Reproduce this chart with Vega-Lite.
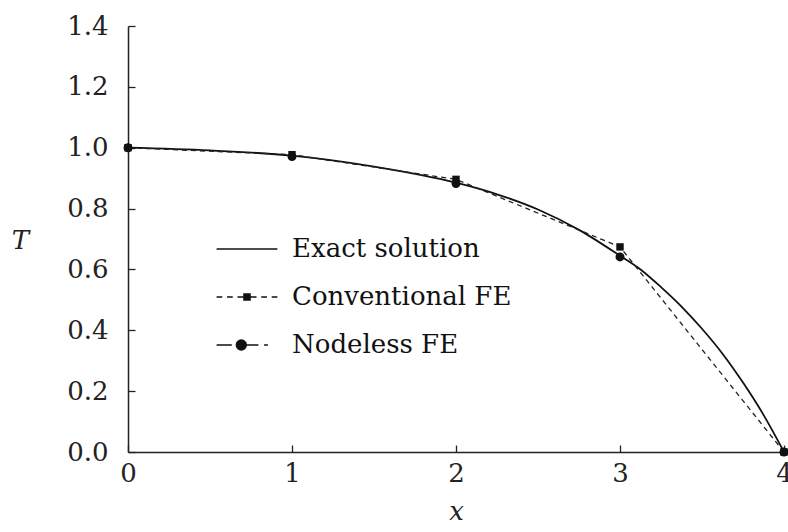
{
  "$schema": "https://vega.github.io/schema/vega-lite/v6.json",
  "width": 656,
  "height": 426,
  "autosize": "none",
  "padding": {"left": 128, "top": 26, "right": 4, "bottom": 80},
  "background": "white",
  "config": {
    "view": {"stroke": null},
    "font": "DejaVu Serif",
    "axis": {
      "grid": false,
      "domainColor": "#222",
      "domainWidth": 1.5,
      "tickColor": "#222",
      "tickWidth": 1.3,
      "tickSize": -7,
      "labelFont": "DejaVu Serif",
      "labelFontSize": 26,
      "labelColor": "#222",
      "labelFlush": false,
      "labelOverlap": false,
      "titleFont": "DejaVu Serif",
      "titleFontSize": 26,
      "titleFontStyle": "italic",
      "titleFontWeight": "normal",
      "titleColor": "#222"
    }
  },
  "datasets": {
    "pts": [
      {"series": "Exact solution", "x": 0, "T": 1.0},
      {"series": "Exact solution", "x": 0.5, "T": 0.991},
      {"series": "Exact solution", "x": 1, "T": 0.974},
      {"series": "Exact solution", "x": 1.5, "T": 0.938},
      {"series": "Exact solution", "x": 2, "T": 0.885},
      {"series": "Exact solution", "x": 2.25, "T": 0.847},
      {"series": "Exact solution", "x": 2.5, "T": 0.797},
      {"series": "Exact solution", "x": 2.75, "T": 0.73},
      {"series": "Exact solution", "x": 3, "T": 0.645},
      {"series": "Exact solution", "x": 3.125, "T": 0.6},
      {"series": "Exact solution", "x": 3.25, "T": 0.542},
      {"series": "Exact solution", "x": 3.375, "T": 0.478},
      {"series": "Exact solution", "x": 3.5, "T": 0.405},
      {"series": "Exact solution", "x": 3.625, "T": 0.323},
      {"series": "Exact solution", "x": 3.75, "T": 0.228},
      {"series": "Exact solution", "x": 3.875, "T": 0.122},
      {"series": "Exact solution", "x": 4, "T": 0.0},
      {"series": "Conventional FE", "x": 0, "T": 1.0},
      {"series": "Conventional FE", "x": 1, "T": 0.977},
      {"series": "Conventional FE", "x": 2, "T": 0.896},
      {"series": "Conventional FE", "x": 3, "T": 0.674},
      {"series": "Conventional FE", "x": 4, "T": 0.0},
      {"series": "Nodeless FE", "x": 0, "T": 1.0},
      {"series": "Nodeless FE", "x": 1, "T": 0.971},
      {"series": "Nodeless FE", "x": 2, "T": 0.882},
      {"series": "Nodeless FE", "x": 3, "T": 0.641},
      {"series": "Nodeless FE", "x": 4, "T": 0.0}
    ]
  },
  "data": {"name": "pts"},
  "layer": [
    {
      "transform": [{"filter": "datum.series === 'Exact solution'"}],
      "mark": {"type": "line", "color": "#111", "strokeWidth": 1.8, "interpolate": "monotone"},
      "encoding": {
        "x": {
          "field": "x", "type": "quantitative",
          "scale": {"domain": [0, 4], "nice": false},
          "axis": {"title": "x", "values": [0, 1, 2, 3, 4], "format": "d", "labelPadding": 15, "titlePadding": 12}
        },
        "y": {
          "field": "T", "type": "quantitative",
          "scale": {"domain": [0, 1.4], "nice": false},
          "axis": {"title": "T", "values": [0, 0.2, 0.4, 0.6, 0.8, 1.0, 1.2, 1.4], "format": ".1f", "labelPadding": 27, "titleAngle": 0, "titleX": -108, "titleY": 214, "titleAlign": "center", "titleBaseline": "middle"}
        }
      }
    },
    {
      "transform": [{"filter": "datum.series === 'Conventional FE'"}],
      "mark": {"type": "line", "color": "#222", "strokeWidth": 1.3, "strokeDash": [5, 4]},
      "encoding": {
        "x": {"field": "x", "type": "quantitative"},
        "y": {"field": "T", "type": "quantitative"}
      }
    },
    {
      "transform": [{"filter": "datum.series === 'Conventional FE'"}],
      "mark": {"type": "point", "shape": "square", "filled": true, "color": "#111", "opacity": 1, "size": 55},
      "encoding": {
        "x": {"field": "x", "type": "quantitative"},
        "y": {"field": "T", "type": "quantitative"}
      }
    },
    {
      "transform": [{"filter": "datum.series === 'Nodeless FE'"}],
      "mark": {"type": "point", "shape": "circle", "filled": true, "color": "#111", "opacity": 1, "size": 80},
      "encoding": {
        "x": {"field": "x", "type": "quantitative"},
        "y": {"field": "T", "type": "quantitative"}
      }
    },
    {
      "mark": {"type": "point", "filled": false, "opacity": 0, "color": "#111", "strokeWidth": 1.5},
      "encoding": {
        "x": {"field": "x", "type": "quantitative"},
        "y": {"field": "T", "type": "quantitative"},
        "shape": {
          "field": "series", "type": "nominal",
          "scale": {
            "domain": ["Exact solution", "Conventional FE", "Nodeless FE"],
            "range": [
              "M-1.6,0L1.6,0",
              "M-1.6,0L-1.3,0M-1.05,0L-0.75,0M-0.5,0L-0.2,0M-0.16,-0.16L0.16,-0.16L0.16,0.16L-0.16,0.16ZM-0.11,-0.11L0.11,-0.11L0.11,0.11L-0.11,0.11ZM-0.06,-0.06L0.06,-0.06L0.06,0.06L-0.06,0.06ZM-0.02,-0.02L0.02,-0.02L0.02,0.02L-0.02,0.02ZM0.2,0L0.5,0M0.75,0L1.05,0M1.3,0L1.6,0",
              "M-1.6,0L-0.8,0M-0.56,0A0.26,0.26 0 1,0 -0.04,0A0.26,0.26 0 1,0 -0.56,0ZM-0.52,0A0.22,0.22 0 1,0 -0.08,0A0.22,0.22 0 1,0 -0.52,0ZM-0.48,0A0.18,0.18 0 1,0 -0.12,0A0.18,0.18 0 1,0 -0.48,0ZM-0.44,0A0.14,0.14 0 1,0 -0.16,0A0.14,0.14 0 1,0 -0.44,0ZM-0.4,0A0.1,0.1 0 1,0 -0.2,0A0.1,0.1 0 1,0 -0.4,0ZM-0.36,0A0.06,0.06 0 1,0 -0.24,0A0.06,0.06 0 1,0 -0.36,0ZM-0.32,0L-0.28,0M-0.04,0L0.6,0M0.9,0L1.1,0"
            ]
          },
          "legend": {
            "title": null,
            "orient": "none",
            "legendX": 99,
            "legendY": 203,
            "padding": 0,
            "symbolSize": 1444,
            "symbolOpacity": 1,
            "symbolStrokeColor": "#111",
            "symbolStrokeWidth": 1.5,
            "labelFont": "DejaVu Serif",
            "labelFontSize": 26,
            "labelColor": "#111",
            "labelOffset": 25,
            "rowPadding": 15,
            "labelLimit": 400,
            "encode": {
              "symbols": {
                "update": {
                  "stroke": {"value": "#111"},
                  "strokeWidth": {"value": 1.5},
                  "opacity": {"value": 1}
                }
              }
            }
          }
        }
      }
    }
  ]
}
